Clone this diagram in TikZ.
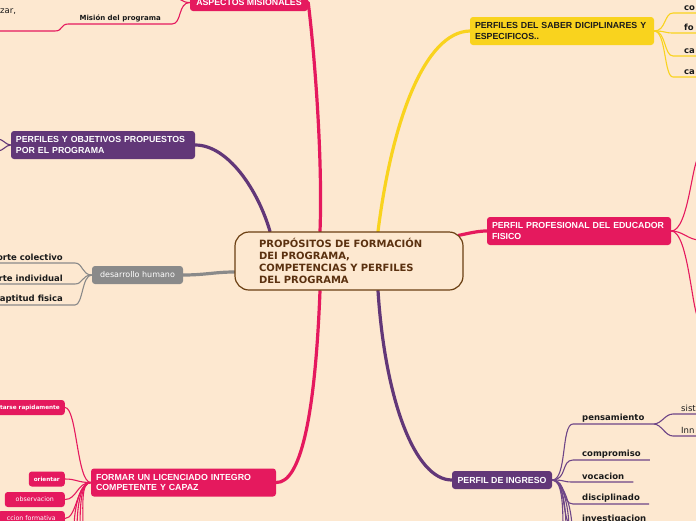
\documentclass[tikz,border=0pt]{standalone}
\usepackage{fontspec}
\setmainfont{Liberation Sans}
\newfontfamily\dv{DejaVu Sans}
\definecolor{bgc}{HTML}{FDE8D0}
\definecolor{pinkc}{HTML}{E5195E}
\definecolor{purc}{HTML}{623778}
\definecolor{purl}{HTML}{6E4587}
\definecolor{yelc}{HTML}{F9D31E}
\definecolor{grayc}{HTML}{8A8A8A}
\definecolor{brownc}{HTML}{6B3F12}
\definecolor{browntxt}{HTML}{5B3110}
\definecolor{leaftxt}{HTML}{1A1A1A}
\pgfdeclarelayer{back}
\pgfsetlayers{back,main}
\begin{document}
\begin{tikzpicture}[x=1pt,y=-1pt,
  bigbox/.style={rounded corners=3pt, inner sep=0pt, text=white, align=left,
    font=\bfseries\fontsize{8.8}{10.8}\selectfont},
  twobox/.style={bigbox, text width=174pt, inner xsep=5pt, minimum height=28pt},
  smallbox/.style={fill=pinkc, rounded corners=3pt, text=white, inner ysep=0pt,
    minimum height=15pt, inner xsep=5pt, font=\dv\bfseries\fontsize{5.7}{6}\selectfont},
  leaf/.style={inner ysep=2pt, text=leaftxt, font=\dv\bfseries\fontsize{8.5}{10}\selectfont},
  leafr/.style={inner ysep=2pt, text=leaftxt, font=\dv\fontsize{8.5}{10}\selectfont},
  trunk/.style={line width=3.2pt, line cap=round},
  thin/.style={line width=1.1pt}]
\useasboundingbox (0,0) rectangle (696,520);
\clip (0,0) rectangle (696,520);

% central
\node[draw=brownc, line width=1.2pt, rounded corners=14pt, fill=bgc,
  text width=180pt, inner xsep=24pt, inner ysep=0pt, minimum height=58pt,
  text=browntxt, align=left, font=\dv\bfseries\fontsize{10}{12}\selectfont]
  (c) at (349,261) {PROPÓSITOS DE FORMACIÓN\\DEI PROGRAMA,\\COMPETENCIAS Y PERFILES\\DEL PROGRAMA};

% main boxes
\node[bigbox, fill=pinkc, align=center, minimum width=118pt, minimum height=17pt] (asp) at (249,2.5) {ASPECTOS MISIONALES};
\node[twobox, fill=purc] (obj) at (103,145) {PERFILES Y OBJETIVOS PROPUESTOS\\POR EL PROGRAMA};
\node[twobox, fill=yelc, text=leaftxt] (sab) at (562,31) {PERFILES DEL SABER DICIPLINARES Y\\ESPECIFICOS..};
\node[twobox, fill=pinkc] (pro) at (579,231) {PERFIL PROFESIONAL DEL EDUCADOR\\FISICO};
\node[twobox, fill=pinkc, text width=175pt] (for) at (183.5,482.5) {FORMAR UN LICENCIADO INTEGRO\\COMPETENTE Y CAPAZ};
\node[bigbox, fill=purc, align=center, minimum width=100pt, minimum height=18pt] (ing) at (502,480) {PERFIL DE INGRESO};
\node[bigbox, fill=grayc, align=center, minimum width=91pt, minimum height=18pt,
  font=\dv\fontsize{8}{10}\selectfont] (des) at (137.5,275) {desarrollo humano};

% ASPECTOS children
\node[leaf, anchor=south east, inner xsep=11pt, font=\dv\bfseries\fontsize{7}{8}\selectfont] (mis) at (172,24) {Misión del programa};
\node[leafr, anchor=west, inner sep=0pt] (zar) at (0,12) {zar,};
\coordinate (zarj) at (55,31);
\coordinate (zare) at (-2,31);
\coordinate (aspup) at (176,-6);

% desarrollo children
\node[leaf, anchor=south east, inner xsep=12pt] (col) at (75,263) {orte colectivo};
\node[leaf, anchor=south east, inner xsep=12pt] (ind) at (75,284) {rte individual};
\node[leaf, anchor=south east, inner xsep=12pt] (apt) at (75,305) {aptitud fisica};

% objetivos left stubs
\coordinate (ob1) at (-2,139);
\coordinate (ob2) at (-2,151);

% saber children
\node[leaf, anchor=south west, inner xsep=11pt] (s1) at (673,13) {co};
\node[leaf, anchor=south west, inner xsep=11pt] (s2) at (673,33) {fo};
\node[leaf, anchor=south west, inner xsep=11pt] (s3) at (673,56) {ca};
\node[leaf, anchor=south west, inner xsep=11pt] (s4) at (673,77) {ca};
\coordinate (s1e) at (700,13);
\coordinate (s2e) at (700,33);
\coordinate (s3e) at (700,56);
\coordinate (s4e) at (700,77);

% profesional children
\coordinate (p1) at (700,156);
\coordinate (p2) at (700,240);
\coordinate (p3) at (700,320);

% ingreso children
\node[leaf, anchor=south west, inner xsep=9pt] (pen) at (573,424) {pensamiento};
\node[leaf, anchor=south west, inner xsep=9pt] (com) at (573,460) {compromiso};
\node[leaf, anchor=south west, inner xsep=9pt] (voc) at (573,482) {vocacion};
\node[leaf, anchor=south west, inner xsep=9pt] (dis) at (573,504) {disciplinado};
\node[leaf, anchor=south west, inner xsep=9pt] (inv) at (573,526) {investigacion};
\node[leafr, anchor=south west, inner xsep=8pt] (sis) at (673,414) {sist};
\node[leafr, anchor=south west, inner xsep=8pt] (inn) at (673,436) {Inn};
\coordinate (sise) at (700,414);
\coordinate (inne) at (700,436);
\coordinate (ig1) at (563,530);
\coordinate (ig2) at (566,530);
\coordinate (ig3) at (569,530);
\coordinate (ig4) at (572,530);

% formar children
\node[smallbox, anchor=east] (rap) at (65,407.5) {tarse rapidamente};
\node[smallbox, anchor=east, minimum width=36pt] (ori) at (65,479) {orientar};
\node[smallbox, anchor=east, minimum width=60pt, font=\dv\fontsize{6.3}{7}\selectfont] (obs) at (65,499.5) {observacion};
\node[smallbox, anchor=east, inner xsep=9pt, font=\dv\fontsize{6.3}{7}\selectfont] (ccf) at (65,518.5) {ccion formativa};
\coordinate (f1) at (74,530);
\coordinate (f2) at (77,530);
\coordinate (f3) at (80,530);
\coordinate (f4) at (83,530);

\begin{pgfonlayer}{back}
\fill[bgc] (-5,-5) rectangle (701,525);
% trunks
\draw[trunk, pinkc] ([xshift=-29pt]c.north) .. controls (323,150) and (313,40) .. (asp.east);
\draw[trunk, purc] ([xshift=-79pt]c.north) .. controls (258,190) and (228,145) .. (obj.east);
\draw[trunk, yelc] ([xshift=29pt]c.north) .. controls (392,120) and (425,32) .. (sab.west);
\draw[trunk, pinkc] ([xshift=-5pt,yshift=-4pt]c.north east) .. controls (470,233) and (478,231) .. (pro.west);
\draw[trunk, grayc] ([yshift=-11pt]c.west) .. controls (215,272) and (205,275) .. (des.east);
\draw[trunk, purc] ([xshift=29pt]c.south) .. controls (385,400) and (415,480) .. (ing.west);
\draw[trunk, pinkc] ([xshift=-29pt]c.south) .. controls (315,420) and (300,483) .. (for.east);

% aspectos
\draw[thin, pinkc] (asp.west) .. controls +(-12,0) and +(10,0) .. (mis.south east) -- (mis.south west)
   .. controls +(-8,0) and +(8,0) .. (zarj) -- (zare);
\draw[thin, pinkc] (asp.west) .. controls +(-8,0) and +(2,4) .. (aspup);

% objetivos stubs
\draw[thin, purc] (obj.west) .. controls +(-5,0) and +(5,0) .. (ob1);
\draw[thin, purc] (obj.west) .. controls +(-5,0) and +(5,0) .. (ob2);

% desarrollo
\foreach \n in {col,ind,apt}
  \draw[thin, grayc] (des.west) .. controls +(-10,0) and +(8,0) .. (\n.south east) -- (\n.south west);

% saber
\foreach \n in {s1,s2,s3,s4}
  \draw[thin, yelc] (sab.east) .. controls +(12,0) and +(-9,0) .. (\n.south west) -- (\n e);

% profesional
\draw[thin, pinkc] (pro.east) .. controls +(18,0) and +(-8,0) .. (p1);
\draw[thin, pinkc] (pro.east) .. controls +(12,0) and +(-12,0) .. (p2);
\draw[thin, pinkc] (pro.east) .. controls +(18,0) and +(-8,0) .. (p3);

% ingreso
\foreach \n in {pen,com,voc,dis,inv}
  \draw[thin, purl] (ing.east) .. controls +(15,0) and +(-12,0) .. (\n.south west) -- (\n.south east);
\foreach \n in {ig1,ig2,ig3,ig4}
  \draw[thin, purl] (ing.east) .. controls +(10,0) and +(0,-25) .. (\n);
\draw[thin, purl] (pen.south east) .. controls +(8,0) and +(-8,0) .. (sis.south west) -- (sise);
\draw[thin, purl] (pen.south east) .. controls +(8,0) and +(-8,0) .. (inn.south west) -- (inne);

% formar
\foreach \n in {rap,ori,obs,ccf}
  \draw[thin, pinkc] (for.west) .. controls +(-14,0) and +(12,0) .. (\n.east);
\foreach \n in {f1,f2,f3,f4}
  \draw[thin, pinkc] (for.west) .. controls +(-10,0) and +(0,-25) .. (\n);
\end{pgfonlayer}
\end{tikzpicture}
\end{document}
